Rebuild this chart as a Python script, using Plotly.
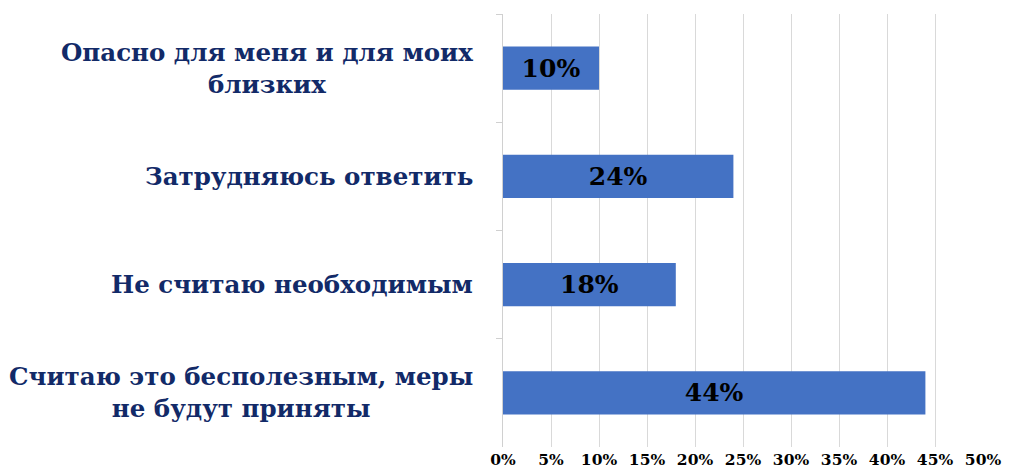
import plotly.graph_objects as go

categories = [
    "Опасно для меня и для моих<br>близких",
    "Затрудняюсь ответить",
    "Не считаю необходимым",
    "Считаю это бесполезным, меры<br>не будут приняты",
]
values = [10, 24, 18, 44]
x_ticks = [0, 5, 10, 15, 20, 25, 30, 35, 40, 45, 50]

SERIF = "DejaVu Serif, Liberation Serif, serif"
NAVY = "#122A68"

fig = go.Figure()
fig.add_trace(go.Bar(
    y=categories,
    x=values,
    orientation="h",
    marker=dict(color="#4472C4", line=dict(width=0)),
    text=[f"{v}%" for v in values],
    textposition="inside",
    insidetextanchor="middle",
    constraintext="none",
    textfont=dict(family=SERIF, size=25, color="black", weight="bold"),
    hoverinfo="skip",
))

for c in categories:
    fig.add_annotation(
        x=0, y=c, xref="paper", yref="y",
        text=c, showarrow=False,
        xanchor="right", yanchor="middle", align="center",
        xshift=-28,
        font=dict(family=SERIF, size=24.5, color=NAVY, weight="bold"),
    )

fig.update_layout(
    width=1022, height=460,
    margin=dict(l=495, r=47, t=6, b=21),
    paper_bgcolor="white", plot_bgcolor="white",
    bargap=0.6,
    showlegend=False,
    xaxis=dict(
        range=[0, 50],
        tickvals=x_ticks,
        ticktext=[f"{t}%" for t in x_ticks],
        showgrid=True, gridcolor="#D9D9D9", gridwidth=1,
        zeroline=False, showline=False, ticks="",
        ticklabelstandoff=1,
        tickfont=dict(family=SERIF, size=15.5, color="black", weight="bold"),
        automargin=False,
        fixedrange=True,
    ),
    yaxis=dict(
        autorange="reversed",
        showticklabels=False,
        showline=True, linecolor="#D0D0D0", linewidth=1,
        ticks="outside", tickson="boundaries", ticklen=6, tickcolor="#D0D0D0",
        showgrid=False, zeroline=False,
        fixedrange=True,
    ),
)

fig.write_html("out.html")
